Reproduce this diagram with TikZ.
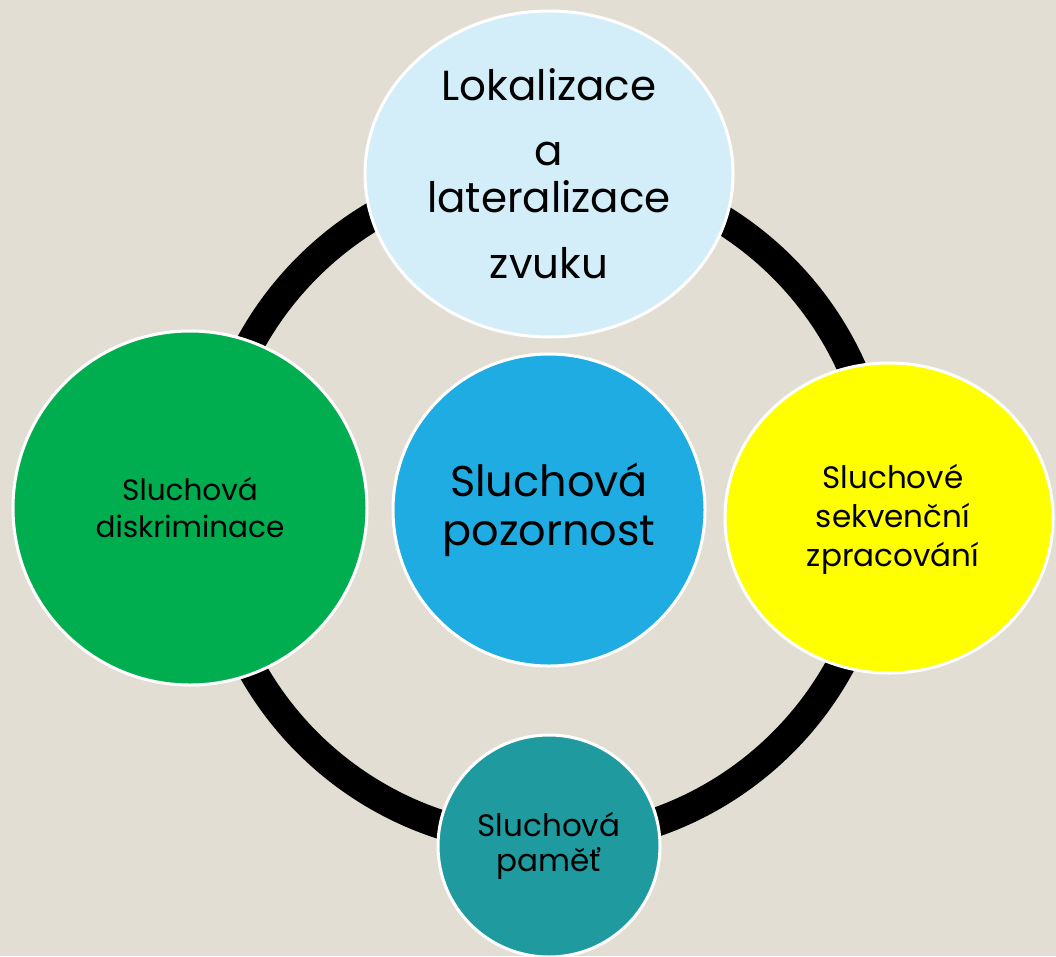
\documentclass[tikz,border=0pt]{standalone}
\usepackage{fontspec}
\setmainfont{Poppins}
\usetikzlibrary{shapes.geometric}
\definecolor{bgc}{HTML}{E3DED3}
\definecolor{topc}{HTML}{D3EEF8}
\definecolor{greenc}{HTML}{00AD4F}
\definecolor{yellowc}{HTML}{FFFF00}
\definecolor{tealc}{HTML}{1F9BA0}
\definecolor{bluec}{HTML}{1EACE2}
\tikzset{
  bubble/.style={ellipse, draw=white, line width=3pt, inner sep=0pt},
  lbl/.style={align=center, text=black, inner sep=0pt},
  ringline/.style={draw=black, line width=29pt}
}
\begin{document}
\begin{tikzpicture}[x=1pt,y=-1pt]
\fill[bgc] (0,0) rectangle (1056,956);
\useasboundingbox (0,0) rectangle (1056,956);
\coordinate (rc) at (545,505);
\draw[ringline] (rc) circle (336pt);
\node[bubble, fill=topc, minimum width=368pt, minimum height=326pt] (top) at (549,174) {};
\node[bubble, fill=greenc, minimum width=354pt, minimum height=354pt] (left) at (190,508) {};
\node[bubble, fill=yellowc, minimum width=328pt, minimum height=310pt] (right) at (889,518) {};
\node[bubble, fill=tealc, minimum width=222pt, minimum height=222pt] (bottom) at (549,846) {};
\node[bubble, fill=bluec, minimum width=312pt, minimum height=312pt] (center) at (549,510) {};
\node[lbl, font=\fontsize{42}{47}\selectfont] (ttop) at (top) {Lokalizace\\[18pt]a\\lateralizace\\[19pt]zvuku};
\node[lbl, font=\fontsize{29.5}{37}\selectfont] (tleft) at (left) {Sluchová\\diskriminace};
\node[lbl, font=\fontsize{31}{39}\selectfont] (tright) at ([xshift=4pt,yshift=-1pt]right.center) {Sluchové\\sekvenční\\zpracování};
\node[lbl, font=\fontsize{31}{35}\selectfont] (tbottom) at (bottom) {Sluchová\\paměť};
\node[lbl, font=\fontsize{43}{49}\selectfont] (tcenter) at (center) {Sluchová\\pozornost};
\end{tikzpicture}
\end{document}
